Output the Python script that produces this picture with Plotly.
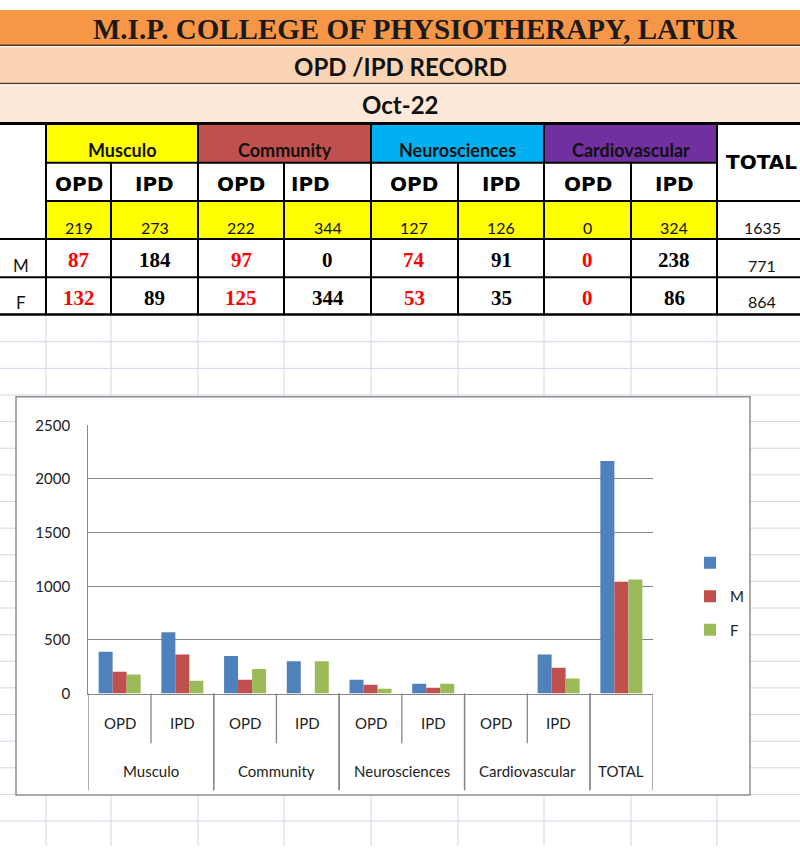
import plotly.graph_objects as go

# ---------------- data ----------------
title_main = "M.I.P. COLLEGE OF PHYSIOTHERAPY, LATUR"
title_sub = "OPD /IPD RECORD"
title_month = "Oct-22"

departments = ["Musculo", "Community", "Neurosciences", "Cardiovascular"]
dept_colors = ["#FFFF00", "#C0504D", "#00B0F0", "#7030A0"]
record_types = ["OPD", "IPD"]
table_total_row = [219, 273, 222, 344, 127, 126, 0, 324]
table_male = [87, 184, 97, 0, 74, 91, 0, 238]
table_female = [132, 89, 125, 344, 53, 35, 0, 86]
total_label = "TOTAL"
grand_totals = [1635, 771, 864]
row_labels = ["M", "F"]

chart_groups = ["Musculo", "Musculo", "Community", "Community", "Neurosciences",
                "Neurosciences", "Cardiovascular", "Cardiovascular", "TOTAL"]
chart_subs = ["OPD", "IPD", "OPD", "IPD", "OPD", "IPD", "OPD", "IPD", ""]
series_names = [" ", "M", "F"]
series_all = [389, 572, 350, 301, 128, 91, 0, 365, 2168]
series_m = [204, 365, 128, 0, 82, 55, 0, 240, 1043]
series_f = [179, 119, 228, 301, 46, 91, 0, 140, 1064]
series_colors = ["#4F81BD", "#C0504D", "#9BBB59"]
y_ticks = [0, 500, 1000, 1500, 2000, 2500]

# ---------------- layout helpers ----------------
W, H = 800, 854


def px(x):
    return x / W


def py(y):
    return 1 - y / H


shapes = []
annots = []


def rect(x0, y0, x1, y1, fill, lc="rgba(0,0,0,0)", lw=0, layer="below"):
    shapes.append(dict(type="rect", xref="paper", yref="paper", x0=px(x0), x1=px(x1),
                       y0=py(y1), y1=py(y0), fillcolor=fill,
                       line=dict(color=lc, width=lw), layer=layer))


def hline(x0, x1, y, color, w, layer="below"):
    shapes.append(dict(type="line", xref="paper", yref="paper", x0=px(x0), x1=px(x1),
                       y0=py(y), y1=py(y), line=dict(color=color, width=w), layer=layer))


def vline(x, y0, y1, color, w, layer="below"):
    shapes.append(dict(type="line", xref="paper", yref="paper", x0=px(x), x1=px(x),
                       y0=py(y0), y1=py(y1), line=dict(color=color, width=w), layer=layer))


def text(x, y, s, size, family="Lato", color="#111111", bold=False, anchor="center"):
    annots.append(dict(xref="paper", yref="paper", x=px(x), y=py(y), text=f"<b>{s}</b>" if bold else s,
                       showarrow=False, xanchor=anchor, yanchor="middle",
                       font=dict(family=family, size=size, color=color)))


col_x = [0, 46, 111, 198, 284, 371, 458, 544, 631, 717, 800]
row_y = [116, 156, 195, 234, 273, 311]

# spreadsheet gridlines
grid_c = "#D0D7E5"
for cx in col_x[1:-1]:
    vline(cx, 311, 854, grid_c, 1)
k = 1
while 311.7 + 27.2 * k < 854:
    hline(0, 800, 311.7 + 27.2 * k, grid_c, 1)
    k += 1

# header bands
rect(0, 0, 800, 36, "#F79646")
rect(0, 36, 800, 75, "#FBD4B4")
rect(0, 75, 800, 116, "#FDE9D9")
hline(0, 800, 36, "#4a3c34", 1.5)
hline(0, 800, 37.5, "#FFFFFF", 1)
hline(0, 800, 75, "#4a3c34", 1.5)
hline(0, 800, 76.5, "#FFFFFF", 1)
text(415, 19, title_main, 29, family="Liberation Serif", bold=True, color="#1a1a1a")
text(400, 58, title_sub, 24, bold=True, color="#111111")
text(400, 97, title_month, 24, bold=True, color="#111111")

# table
rect(0, 116, 800, 311, "#FFFFFF")
for i, (dname, dcol) in enumerate(zip(departments, dept_colors)):
    x0, x1 = col_x[1 + 2 * i], col_x[3 + 2 * i]
    rect(x0, row_y[0], x1, row_y[1], dcol)
    text((x0 + x1) / 2, 143, dname, 18, bold=True, color="#111111")
rect(col_x[1], row_y[2], col_x[9], row_y[3], "#FFFF00")

for j in range(8):
    x0, x1 = col_x[1 + j], col_x[2 + j]
    rt = record_types[j % 2]
    if j == 3:
        text(x0 + 5, 178, rt, 20, family="DejaVu Sans", bold=True, color="#000000", anchor="left")
    else:
        text((x0 + x1) / 2, 178, rt, 20, family="DejaVu Sans", bold=True, color="#000000")
    text((x0 + x1) / 2, 222, str(table_total_row[j]), 16, color="#111111")
    vcol = "#FF0000" if j % 2 == 0 else "#000000"
    text((x0 + x1) / 2, 255, str(table_male[j]), 21, family="Liberation Serif", bold=True, color=vcol)
    text((x0 + x1) / 2, 294, str(table_female[j]), 21, family="Liberation Serif", bold=True, color=vcol)

text(724, 155, total_label, 20, family="DejaVu Sans", bold=True, color="#000000", anchor="left")
text(762, 222, str(grand_totals[0]), 16)
text(762, 261, str(grand_totals[1]), 16)
text(762, 298, str(grand_totals[2]), 16)
text(21, 261, row_labels[0], 17)
text(21, 299, row_labels[1], 17)

bk = "#000000"
hline(0, 800, 116, bk, 3)
hline(46, 717, 156, bk, 2)
hline(46, 800, 195, bk, 2)
hline(0, 800, 234, bk, 2)
hline(0, 800, 273, bk, 2)
hline(0, 800, 311, bk, 2.5)
for cx in [46, 198, 371, 544, 717]:
    vline(cx, 116, 311, bk, 2)
for cx in [111, 284, 458, 631]:
    vline(cx, 156, 311, bk, 2)

# chart box
rect(16, 395, 750, 802, "#FFFFFF", lc="#8E8E8E", lw=1.5)

# ---------------- chart ----------------
cats = [f"{g} {s}".strip() for g, s in zip(chart_groups, chart_subs)]
fig = go.Figure()
for name, vals, col in zip(series_names, [series_all, series_m, series_f], series_colors):
    fig.add_trace(go.Bar(x=cats, y=vals, name=name, marker=dict(color=col, line=dict(width=0)),
                         legendgroup=name))

axis_c = "#868686"
ax_y0, inner_y1, outer_y1 = 698.3, 749, 797
for i, (c, s) in enumerate(zip(cats, chart_subs)):
    if s:
        annots.append(dict(xref="x", yref="paper", x=c, y=py(728), text=s, showarrow=False,
                           xanchor="center", yanchor="middle",
                           font=dict(family="Lato", size=15, color="#222222")))
spans = []
start = 0
for i in range(1, len(chart_groups) + 1):
    if i == len(chart_groups) or chart_groups[i] != chart_groups[start]:
        spans.append((chart_groups[start], start, i - 1))
        start = i
for g, a, b in spans:
    annots.append(dict(xref="x", yref="paper", x=(a + b) / 2, y=py(777), text=g, showarrow=False,
                       xanchor="center", yanchor="middle",
                       font=dict(family="Lato", size=15, color="#222222")))
    for xb in (a - 0.5, b + 0.5):
        shapes.append(dict(type="line", xref="x", yref="paper", x0=xb, x1=xb,
                           y0=py(ax_y0), y1=py(outer_y1), line=dict(color=axis_c, width=1.3),
                           layer="above"))
    for m in range(a, b):
        shapes.append(dict(type="line", xref="x", yref="paper", x0=m + 0.5, x1=m + 0.5,
                           y0=py(ax_y0), y1=py(inner_y1), line=dict(color=axis_c, width=1.3),
                           layer="above"))

fig.update_layout(
    width=W, height=H, margin=dict(l=0, r=0, t=0, b=0),
    paper_bgcolor="#FFFFFF", plot_bgcolor="rgba(0,0,0,0)",
    barmode="group", bargap=0.33, bargroupgap=0,
    shapes=shapes, annotations=annots,
    showlegend=True,
    legend=dict(x=px(690), y=py(548), xanchor="left", yanchor="top",
                font=dict(family="Lato", size=15, color="#222222"),
                bgcolor="rgba(0,0,0,0)", traceorder="grouped", tracegroupgap=11),
    xaxis=dict(domain=[px(88.3), px(652.7)], range=[-0.5, len(cats) - 0.5],
               showticklabels=False, showgrid=False, showline=True, linecolor=axis_c,
               linewidth=1.3, ticks="", zeroline=False),
    yaxis=dict(domain=[py(698.3), py(424.3)], range=[0, 2500], tickvals=y_ticks,
               showgrid=True, gridcolor=axis_c, gridwidth=1.3, showline=True,
               linecolor=axis_c, linewidth=1.3, ticks="", zeroline=False,
               ticklabelstandoff=14,
               tickfont=dict(family="Lato", size=15, color="#222222")),
)

fig.write_html("out.html", config={"displayModeBar": False},
               post_script="document.body.style.margin='0';document.body.style.overflow='hidden';")
